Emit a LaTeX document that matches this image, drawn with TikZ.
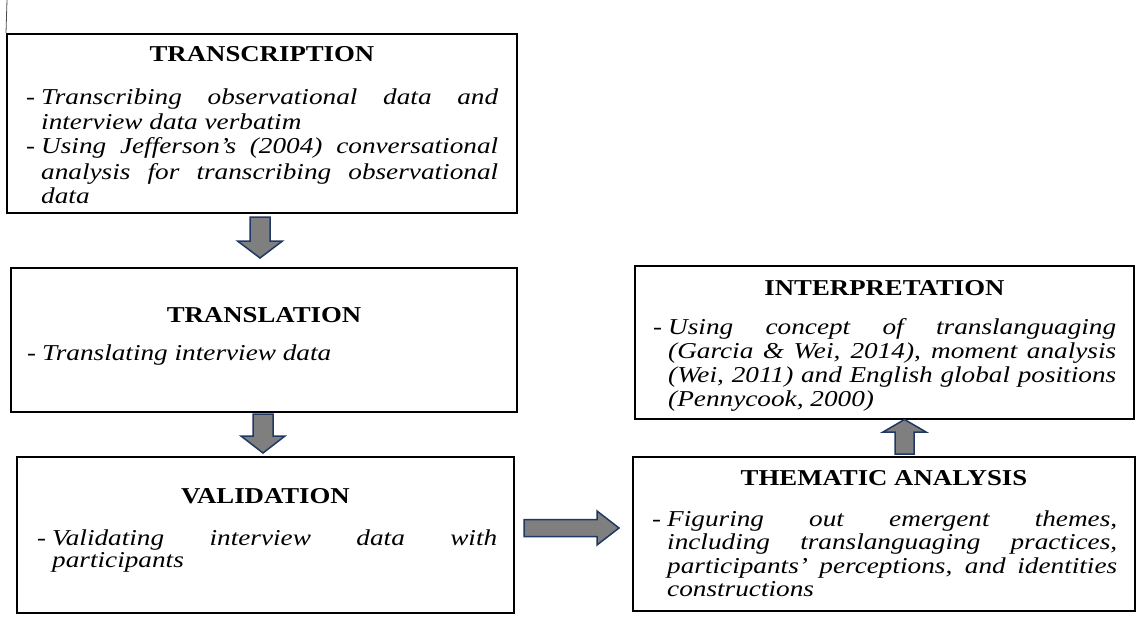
\documentclass[tikz,border=0pt]{standalone}
\usepackage{fontspec}
\setmainfont{Liberation Serif}[FakeStretch=1.18, ItalicFeatures={FakeStretch=1.2}]
\usepackage{tikz}
\usetikzlibrary{positioning,calc}

\definecolor{arrowfill}{HTML}{7F7F7F}
\definecolor{arrowline}{HTML}{1F3864}

\newcommand{\dashitem}[1]{\hangindent=15pt\hangafter=1\noindent\makebox[15pt][l]{-}\textit{#1}\par}

\tikzset{
  stagebox/.style={draw=black, line width=2pt, inner sep=0pt},
  stagetitle/.style={anchor=base, inner sep=0pt, font=\fontsize{22.7pt}{25pt}\selectfont\bfseries},
  stagetext/.style={anchor=base west, inner sep=0pt, align=justify, font=\fontsize{22.7pt}{#1}\selectfont},
  stagetext/.default=22pt,
  blockarrow/.style={fill=arrowfill, draw=arrowline, line width=1.5pt, line join=miter},
}

\begin{document}
\begin{tikzpicture}[x=1pt,y=-1pt]
  \useasboundingbox (0,0) rectangle (1136,618); % 全体の大きさ
  % 左側の枠
  \node[stagebox, minimum width=510pt, minimum height=179pt] (transcription) at (262,123.5) {}; % 文字起こし
  \node[stagebox, minimum width=506pt, minimum height=144pt] (translation) at (264,340) {}; % 翻訳
  \node[stagebox, minimum width=497pt, minimum height=156pt] (validation) at (265.5,535) {}; % 検証
  % 右側の枠
  \node[stagebox, minimum width=499pt, minimum height=153pt] (interpretation) at (884.5,342.5) {}; % 解釈
  \node[stagebox, minimum width=502pt, minimum height=154pt] (thematic) at (884,534) {}; % 主題分析
  \draw[line width=0.8pt, black!70] (7,0) -- (transcription.north west); % 左上の細い線
  % 見出し
  \node[stagetitle] (transcriptiontitle) at (262,62) {TRANSCRIPTION};
  \node[stagetitle] (translationtitle) at (264,322) {TRANSLATION};
  \node[stagetitle] (validationtitle) at (265.5,503) {VALIDATION};
  \node[stagetitle] (interpretationtitle) at (884.5,295) {INTERPRETATION};
  \node[stagetitle] (thematictitle) at (884,485) {THEMATIC ANALYSIS};
  % 本文
  \node[stagetext=25pt, text width=472pt] (transcriptiontext) at (26,104) {%
    \dashitem{Transcribing observational data and\linebreak interview data verbatim}%
    \dashitem{Using Jefferson’s (2004) conversational\linebreak analysis for transcribing observational\linebreak data}};
  \node[stagetext, text width=470pt] (translationtext) at (27,360) {%
    \dashitem{Translating interview data}};
  \node[stagetext, text width=460pt] (validationtext) at (37,545) {%
    \dashitem{Validating interview data with\linebreak participants}};
  \node[stagetext=24.3pt, text width=463pt] (interpretationtext) at (653,334) {%
    \dashitem{Using concept of translanguaging\linebreak (Garcia \& Wei, 2014), moment analysis\linebreak (Wei, 2011) and English global positions\linebreak (Pennycook, 2000)}};
  \node[stagetext=23.5pt, text width=465pt] (thematictext) at (652,526) {%
    \dashitem{Figuring out emergent themes,\linebreak including translanguaging practices,\linebreak participants’ perceptions, and identities\linebreak constructions}};
  % 矢印
  \draw[blockarrow] (250,217) -- (270,217) -- (270,241) -- (282.5,241) -- (260,258) -- (237.5,241) -- (250,241) -- cycle; % 文字起こし→翻訳
  \draw[blockarrow] (253,414) -- (273,414) -- (273,436) -- (285,436) -- (263,453) -- (241,436) -- (253,436) -- cycle; % 翻訳→検証
  \draw[blockarrow] (524,519.5) -- (597,519.5) -- (597,511) -- (619,528) -- (597,545) -- (597,536.5) -- (524,536.5) -- cycle; % 検証→主題分析
  \draw[blockarrow] (895,454) -- (895,432) -- (883,432) -- (904.5,419.5) -- (926,432) -- (914,432) -- (914,454) -- cycle; % 主題分析→解釈
\end{tikzpicture}
\end{document}
